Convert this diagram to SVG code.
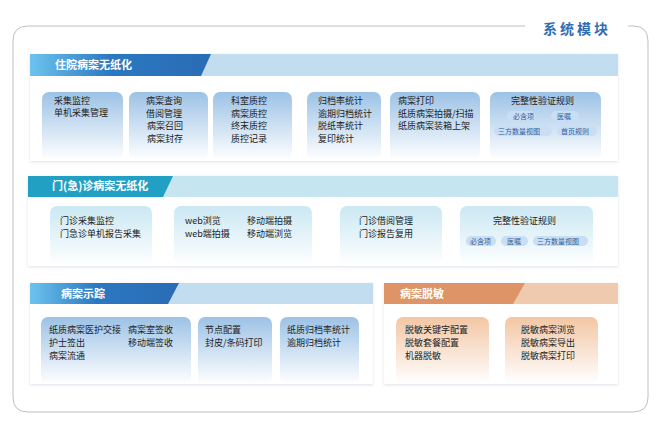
<svg xmlns="http://www.w3.org/2000/svg" width="664" height="426" viewBox="0 0 664 426">
<defs>
<linearGradient id="hb" x1="0" x2="1" y1="0" y2="0"><stop offset="0" stop-color="#6cc3ee"/><stop offset="0.45" stop-color="#2b78c0"/><stop offset="1" stop-color="#2a6cb6"/></linearGradient>
<linearGradient id="bb" x1="0" x2="0" y1="0" y2="1"><stop offset="0" stop-color="#9cc2e6"/><stop offset="1" stop-color="#ffffff"/></linearGradient>
<linearGradient id="bc" x1="0" x2="0" y1="0" y2="1"><stop offset="0" stop-color="#cbe8f3"/><stop offset="1" stop-color="#ffffff"/></linearGradient>
<linearGradient id="bo" x1="0" x2="0" y1="0" y2="1"><stop offset="0" stop-color="#f3c6a4"/><stop offset="1" stop-color="#ffffff"/></linearGradient>
<filter id="sh" x="-5%" y="-5%" width="110%" height="115%"><feDropShadow dx="0" dy="1" stdDeviation="1.5" flood-color="#9aa8b8" flood-opacity="0.35"/></filter>
</defs>
<style>
text{font-family:"Noto Sans CJK SC","Liberation Sans",sans-serif;font-size:9px;fill:#222}
.h{font-size:11px;font-weight:bold;fill:#fff}
.t{font-size:14px;font-weight:bold;fill:#2e6db5;letter-spacing:3px}
.panel{fill:#fff;filter:url(#sh)}
.tag{fill:#c9def2}
.tg{font-size:7px;fill:#2d5f9e}
</style>
<rect width="664" height="426" fill="#fff"/>
<path d="M525,26 H28 Q13,26 13,41 V397 Q13,412 28,412 H633 Q648,412 648,397 V41 Q648,26 633,26 H628" fill="none" stroke="#bfbfbf" stroke-width="1"/>
<text class="t" x="543" y="34">系统模块</text>

<g id="sec1">
<rect class="panel" x="30" y="54" width="588" height="107"/>
<rect x="30" y="54" width="588" height="22" fill="#c2dcf0"/>
<path d="M30,54 H211 L201,76 H30 Z" fill="url(#hb)"/>
<text class="h" x="55" y="69">住院病案无纸化</text>
</g>
<g id="n1"><rect x="42" y="92" width="81" height="68" rx="7" fill="url(#bb)"/><text x="54" y="104">采集监控</text><text x="54" y="116">单机采集管理</text></g>
<g id="n2"><rect x="129" y="92" width="79" height="68" rx="7" fill="url(#bb)"/><text x="146" y="104">病案查询</text><text x="146" y="116.5">借阅管理</text><text x="147" y="129">病案召回</text><text x="147" y="141.5">病案封存</text></g>
<g id="n3"><rect x="213" y="92" width="79" height="68" rx="7" fill="url(#bb)"/><text x="231" y="104">科室质控</text><text x="231" y="116.5">病案质控</text><text x="231" y="129">终末质控</text><text x="231" y="141.5">质控记录</text></g>
<g id="n4"><rect x="307" y="92" width="74" height="68" rx="7" fill="url(#bb)"/><text x="318" y="104">归档率统计</text><text x="318" y="116.5">逾期归档统计</text><text x="318" y="129">脱纸率统计</text><text x="318" y="141.5">复印统计</text></g>
<g id="n5"><rect x="390" y="92" width="90" height="68" rx="7" fill="url(#bb)"/><text x="398" y="104">病案打印</text><text x="398" y="116.5">纸质病案拍摄/扫描</text><text x="398" y="129">纸质病案装箱上架</text></g>
<g id="n6"><rect x="490" y="92" width="111" height="68" rx="7" fill="url(#bb)"/><text x="511" y="104">完整性验证规则</text>
<rect class="tag" x="507" y="111" width="28" height="10" rx="5"/><text class="tg" x="513" y="119">必含项</text>
<rect class="tag" x="551" y="111" width="28" height="10" rx="5"/><text class="tg" x="557" y="119">医嘱</text>
<rect class="tag" x="494" y="126" width="58" height="10" rx="5"/><text class="tg" x="498" y="134">三方数量视图</text>
<rect class="tag" x="557" y="126" width="40" height="10" rx="5"/><text class="tg" x="561" y="134">首页规则</text></g>

<g id="sec2">
<rect class="panel" x="28" y="176" width="590" height="90"/>
<rect x="28" y="176" width="590" height="21" fill="#c5e6f0"/>
<path d="M28,176 H173 L163,197 H28 Z" fill="#22a0c4"/>
<text class="h" x="52" y="190">门(急)诊病案无纸化</text>
</g>
<g id="m1"><rect x="50" y="206" width="102" height="60" rx="7" fill="url(#bc)"/><text x="60" y="224">门诊采集监控</text><text x="60" y="237">门急诊单机报告采集</text></g>
<g id="m2"><rect x="174" y="206" width="138" height="60" rx="7" fill="url(#bc)"/><text x="185" y="224">web浏览</text><text x="185" y="237">web端拍摄</text><text x="247" y="224">移动端拍摄</text><text x="247" y="237">移动端浏览</text></g>
<g id="m3"><rect x="340" y="206" width="102" height="60" rx="7" fill="url(#bc)"/><text x="359" y="224">门诊借阅管理</text><text x="359" y="237">门诊报告复用</text></g>
<g id="m4"><rect x="460" y="206" width="133" height="60" rx="7" fill="url(#bc)"/><text x="493" y="224">完整性验证规则</text>
<rect class="tag" x="466" y="236" width="30" height="10" rx="5"/><text class="tg" x="470" y="244">必含项</text>
<rect class="tag" x="501" y="236" width="27" height="10" rx="5"/><text class="tg" x="507" y="244">医嘱</text>
<rect class="tag" x="533" y="236" width="55" height="10" rx="5"/><text class="tg" x="537" y="244">三方数量视图</text></g>

<g id="sec3">
<rect class="panel" x="30" y="283" width="343" height="101"/>
<rect x="30" y="283" width="343" height="21" fill="#c2dcf0"/>
<path d="M30,283 H179 L168,304 H30 Z" fill="url(#hb)"/>
<text class="h" x="61" y="298">病案示踪</text>
</g>
<g id="p1"><rect x="41" y="317" width="150" height="67" rx="7" fill="url(#bb)"/><text x="49" y="333">纸质病案医护交接</text><text x="49" y="346">护士签出</text><text x="49" y="359">病案流通</text><text x="128" y="333">病案室签收</text><text x="128" y="346">移动端签收</text></g>
<g id="p2"><rect x="198" y="317" width="74" height="67" rx="7" fill="url(#bb)"/><text x="205" y="333">节点配置</text><text x="205" y="346">封皮/条码打印</text></g>
<g id="p3"><rect x="280" y="317" width="79" height="67" rx="7" fill="url(#bb)"/><text x="287" y="333">纸质归档率统计</text><text x="287" y="346">逾期归档统计</text></g>

<g id="sec4">
<rect class="panel" x="384" y="283" width="234" height="101"/>
<rect x="384" y="283" width="234" height="21" fill="#efcaae"/>
<path d="M384,283 H525 L513,304 H384 Z" fill="#de9466"/>
<text class="h" x="400" y="298">病案脱敏</text>
</g>
<g id="q1"><rect x="396" y="317" width="93" height="67" rx="7" fill="url(#bo)"/><text x="405" y="333">脱敏关键字配置</text><text x="405" y="346">脱敏套餐配置</text><text x="405" y="359">机器脱敏</text></g>
<g id="q2"><rect x="505" y="317" width="93" height="67" rx="7" fill="url(#bo)"/><text x="521" y="333">脱敏病案浏览</text><text x="521" y="346">脱敏病案导出</text><text x="521" y="359">脱敏病案打印</text></g>
<g id="connectors"></g>
</svg>
